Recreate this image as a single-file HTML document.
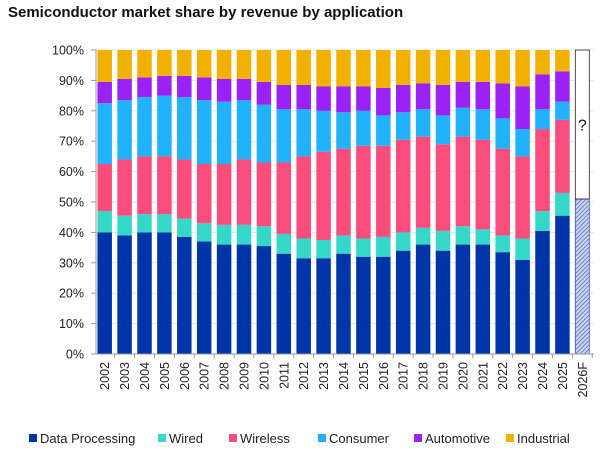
<!DOCTYPE html>
<html><head><meta charset="utf-8"><style>
body{margin:0;background:#fff;width:606px;height:449px;overflow:hidden;font-family:"Liberation Sans",sans-serif}
</style></head><body>
<svg width="606" height="449">
<defs><pattern id="hatch" width="3" height="3" patternUnits="userSpaceOnUse" patternTransform="rotate(45)"><rect width="3" height="3" fill="#c9d3ef"/><line x1="0" y1="0" x2="0" y2="3" stroke="#3b5bb5" stroke-width="1.2"/></pattern></defs>
<text x="8" y="17" font-size="15" font-weight="bold" fill="#111">Semiconductor market share by revenue by application</text>
<g id="grid"></g><g id="bars"></g><g id="axes"></g><g id="legend"></g>
</svg>
<script>
const years=["2002","2003","2004","2005","2006","2007","2008","2009","2010","2011","2012","2013","2014","2015","2016","2017","2018","2019","2020","2021","2022","2023","2024","2025"];
const seriesNames=["Data Processing","Wired","Wireless","Consumer","Automotive","Industrial"];
const dataProcessing=[40,39,40,40,38.5,37,36,36,35.5,33,31.5,31.5,33,32,32,34,36,34,36,36,33.5,31,40.5,45.5];
const wired=[7,6.5,6,6,6,6,6.5,6.5,6.5,6.5,6.5,6,6,6,6.5,6,5.5,6.5,6,5,5.5,7,6.5,7.5];
const wireless=[15.5,18.5,19,19,19.5,19.5,20,21.5,21,23.5,27,29,28.5,30.5,30,30.5,30,28.5,29.5,29.5,28.5,27,27,24];
const consumer=[20,19.5,19.5,20,20.5,21,20.5,19.5,19,17.5,15.5,13.5,12,11.5,10,9,9,9.5,9.5,10,10,9,6.5,6];
const automotive=[7,7,6.5,6.5,7,7.5,7.5,7,7.5,8,8,8,8.5,8,9,9,8.5,10,8.5,9,11.5,14,11.5,10];
const forecastLabel="2026F";
const forecastValue=51;
const yTicks=[0,10,20,30,40,50,60,70,80,90,100];
const colors=["#0035a8","#35d8c8","#fb4d7b","#22b1fd","#9a22f5","#f2b100"];
const NS="http://www.w3.org/2000/svg";
const y=v=>354-3.04*v;
const cx=i=>104.7+19.9*i;
const BW=14.5;
function mk(tag,attrs,parent){const e=document.createElementNS(NS,tag);for(const k in attrs)e.setAttribute(k,attrs[k]);parent.appendChild(e);return e;}
const grid=document.getElementById('grid'),bars=document.getElementById('bars'),axes=document.getElementById('axes'),legend=document.getElementById('legend');
yTicks.forEach(t=>{
  const l=mk('line',{x1:96,x2:594,y1:y(t),y2:y(t),stroke:'#e6e6e6','stroke-width':1},grid);
  
  
  const tx=mk('text',{x:84,y:y(t)+4.5,'font-size':12.5,'text-anchor':'end',fill:'#222'},axes);
  tx.textContent=t+'%';
  
  
  mk('line',{x1:91,x2:96,y1:y(t),y2:y(t),stroke:'#999'},axes);
});
const all=[dataProcessing,wired,wireless,consumer,automotive];
years.forEach((yr,i)=>{
  let base=0;
  for(let s=0;s<6;s++){
    const v=s<5?all[s][i]:100-base;
    const r=mk('rect',{x:cx(i)-BW/2,y:y(base+v),width:BW,height:3.04*v,fill:colors[s]},bars);
    
    
    base+=v;
  }
});
const fi=years.length;
const fh=mk('rect',{x:cx(fi)-7,y:y(forecastValue),width:14,height:3.04*forecastValue,fill:'url(#hatch)',stroke:'#3b5bb5','stroke-width':0.8},bars);


const fu=mk('rect',{x:cx(fi)-7,y:y(100),width:14,height:3.04*(100-forecastValue),fill:'#fff',stroke:'#222','stroke-width':0.8},bars);


const q=mk('text',{x:cx(fi),y:y((100+forecastValue)/2)+6,'font-size':16,'text-anchor':'middle',fill:'#111'},bars);
q.textContent='?';


mk('line',{x1:96,x2:96,y1:y(100),y2:y(0),stroke:'#999'},axes);
mk('line',{x1:96,x2:594,y1:y(0),y2:y(0),stroke:'#999'},axes);
const labels=years.concat([forecastLabel]);
labels.forEach((yr,i)=>{
  mk('line',{x1:cx(i)+9.95,x2:cx(i)+9.95,y1:354,y2:358,stroke:'#999'},axes);
  const t=mk('text',{transform:`translate(${cx(i)+4.5},362) rotate(-90)`,'font-size':12.5,'text-anchor':'end',fill:'#222'},axes);
  t.textContent=yr;
  
  
});
const lx=[29,158,229,318,414,506];
seriesNames.forEach((n,s)=>{
  const g=mk('g',{},legend);
  
  
  mk('rect',{x:lx[s],y:434,width:8,height:8,fill:colors[s]},g);
  const t=mk('text',{x:lx[s]+11,y:443,'font-size':13,fill:'#222'},g);
  t.textContent=n;
});
</script>
</body></html>
